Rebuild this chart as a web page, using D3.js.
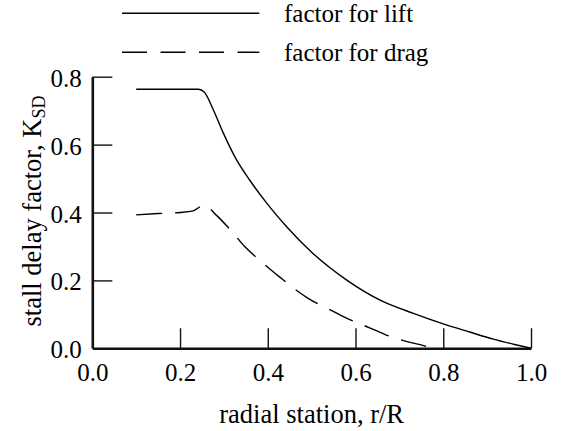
<!DOCTYPE html>
<html>
<head>
<meta charset="utf-8">
<script src="https://cdn.jsdelivr.net/npm/d3@7"></script>
<style>
  html, body { margin: 0; padding: 0; background: #fff; }
  svg { display: block; }
</style>
</head>
<body>
<svg id="chart" width="561" height="431"></svg>
<script>
// ---- data ----
const liftX = [0.10, 0.15, 0.20, 0.242, 0.255, 0.276, 0.299, 0.325, 0.359, 0.398, 0.443, 0.50, 0.58, 0.656, 0.732, 0.80, 0.86, 0.914, 0.96, 1.0];
const liftY = [0.763, 0.763, 0.763, 0.763, 0.755, 0.702, 0.633, 0.564, 0.495, 0.427, 0.358, 0.283, 0.201, 0.142, 0.103, 0.072, 0.048, 0.027, 0.012, 0.0];
const dragX = [0.10, 0.15, 0.20, 0.23, 0.255, 0.282, 0.314, 0.348, 0.39, 0.428, 0.462, 0.492, 0.546, 0.576, 0.631, 0.665, 0.72, 0.755, 0.775];
const dragY = [0.393, 0.397, 0.400, 0.405, 0.422, 0.393, 0.350, 0.299, 0.250, 0.209, 0.174, 0.147, 0.111, 0.091, 0.061, 0.042, 0.019, 0.008, 0.0];
const xTicks = [0.0, 0.2, 0.4, 0.6, 0.8, 1.0];
const yTicks = [0.0, 0.2, 0.4, 0.6, 0.8];
const seriesNames = ["factor for lift", "factor for drag"];
const xTitle = "radial station, r/R";
const yTitleMain = "stall delay factor, K";
const yTitleSub = "SD";

// ---- layout ----
const FONT = "'Liberation Serif', 'Times New Roman', Times, serif";
const svg = d3.select("#chart");
const x = d3.scaleLinear().domain([0, 1]).range([92.3, 531]);
const y = d3.scaleLinear().domain([0, 0.8]).range([348.3, 76.7]);
const FS = 25;
const TFS = 26.5;
const ink = "#111";

// x axis
const xAxis = d3.axisBottom(x).tickValues(xTicks).tickFormat(d3.format(".1f"))
  .tickSizeInner(-20).tickSizeOuter(0).tickPadding(15);
const gx = svg.append("g").attr("transform", `translate(0,${y(0)})`).call(xAxis);
gx.select(".domain").attr("stroke", ink).attr("stroke-width", 2.6);
gx.selectAll(".tick line").attr("stroke", ink).attr("stroke-width", 1.4)
  .attr("display", d => d === 0 ? "none" : null);
gx.selectAll(".tick text").attr("fill", "#000").style("font-family", FONT).style("font-size", FS + "px");

// y axis
const yAxis = d3.axisLeft(y).tickValues(yTicks).tickFormat(d3.format(".1f"))
  .tickSizeInner(-20).tickSizeOuter(0).tickPadding(10.5);
const gy = svg.append("g").attr("transform", `translate(${x(0)},0)`).call(yAxis);
gy.select(".domain").attr("stroke", ink).attr("stroke-width", 2.6);
gy.selectAll(".tick line").attr("stroke", ink).attr("stroke-width", 1.4)
  .attr("display", d => d === 0 ? "none" : null);
gy.selectAll(".tick text").attr("fill", "#000").style("font-family", FONT).style("font-size", FS + "px")
  .attr("dy", "0.38em");

// lines
const line = d3.line().x(d => x(d[0])).y(d => y(d[1])).curve(d3.curveMonotoneX);
const lift = liftX.map((v, i) => [v, liftY[i]]);
const drag = dragX.map((v, i) => [v, dragY[i]]);
svg.append("path").datum(lift).attr("d", line)
  .attr("fill", "none").attr("stroke", "#000").attr("stroke-width", 1.4);
svg.append("path").datum(drag).attr("d", line)
  .attr("fill", "none").attr("stroke", "#000").attr("stroke-width", 1.4)
  .attr("stroke-dasharray", "26,13");

// legend
const legend = svg.append("g");
const legY = [13.3, 52.3];
seriesNames.forEach((name, i) => {
  legend.append("line").attr("x1", 122).attr("x2", 259.3)
    .attr("y1", legY[i]).attr("y2", legY[i])
    .attr("stroke", "#000").attr("stroke-width", 1.4)
    .attr("stroke-dasharray", i === 1 ? "25,13.5" : null);
  legend.append("text").attr("x", 284).attr("y", legY[i] + 8.5)
    .style("font-family", FONT).style("font-size", FS + "px").text(name);
});

// axis titles
svg.append("text").attr("x", (x(0) + x(1)) / 2).attr("y", 423)
  .attr("text-anchor", "middle").style("font-family", FONT).style("font-size", TFS + "px").text(xTitle);

const yt = svg.append("text")
  .attr("transform", "translate(40.5,211) rotate(-90)")
  .attr("text-anchor", "middle").style("font-family", FONT).style("font-size", TFS + "px");
yt.append("tspan").text(yTitleMain);
yt.append("tspan").style("font-size", "18px").attr("dy", 4).text(yTitleSub);
</script>
</body>
</html>
